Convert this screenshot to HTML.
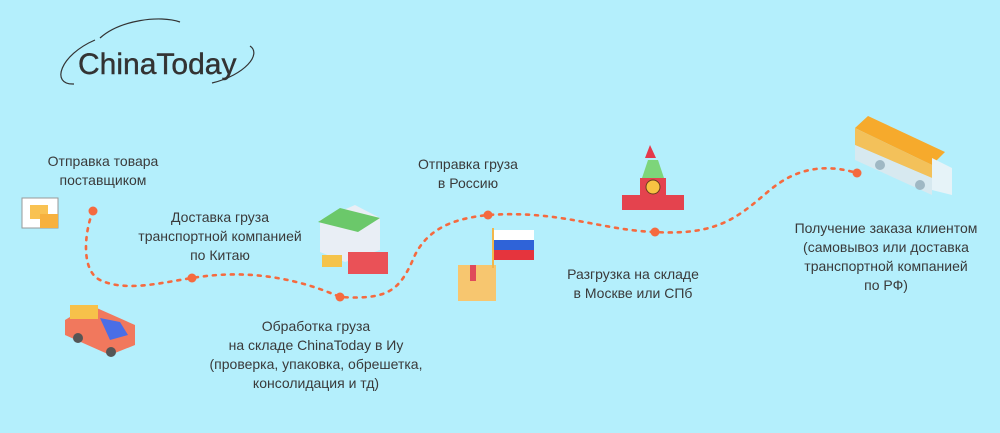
<!DOCTYPE html>
<html><head><meta charset="utf-8"><style>
body{margin:0;width:1000px;height:433px;background:#b4effc;position:relative;overflow:hidden;font-family:"Liberation Sans",sans-serif;color:#3a3a3a}
.t{position:absolute;font-size:14px;line-height:19px;text-align:center;white-space:nowrap;transform:translateX(-50%)}
</style></head><body>
<svg width="1000" height="433" style="position:absolute;left:0;top:0">
<!-- logo -->
<path d="M100,38 C120,20 160,15 180,22" fill="none" stroke="#333" stroke-width="1.2"/>
<path d="M74,84 C50,85 60,55 95,40" fill="none" stroke="#333" stroke-width="1.2"/>
<path d="M250,46 C262,54 245,75 212,83" fill="none" stroke="#333" stroke-width="1.2"/>
<text x="78" y="74" font-family="Liberation Sans, sans-serif" font-size="30" fill="#333" stroke="#333" stroke-width="0.4">ChinaToday</text>
<!-- path -->
<path d="M93,211 C85,230 80,270 100,280 C125,292 160,283 192,278 C240,270 290,275 340,297 C390,300 400,290 415,255 C430,225 460,218 488,215 C560,210 600,230 655,232 C720,236 740,215 770,190 C800,165 830,165 857,173" fill="none" stroke="#f56a3f" stroke-width="2.6" stroke-dasharray="3 6" stroke-linecap="round"/>
<g fill="#f56a3f"><circle cx="93" cy="211" r="4.5"/><circle cx="192" cy="278" r="4.5"/><circle cx="340" cy="297" r="4.5"/><circle cx="488" cy="215" r="4.5"/><circle cx="655" cy="232" r="4.5"/><circle cx="857" cy="173" r="4.5"/></g>
<!-- cart with boxes -->
<rect x="22" y="198" width="36" height="30" fill="#fff" stroke="#999"/>
<rect x="30" y="205" width="18" height="14" fill="#f9c252"/><rect x="40" y="214" width="18" height="14" fill="#f7b13e"/>
<!-- pickup truck -->
<polygon points="65,320 90,305 135,325 135,345 110,355 65,335" fill="#f1785d"/>
<polygon points="100,318 120,322 128,335 110,340" fill="#4a6ee6"/>
<rect x="70" y="305" width="28" height="14" fill="#f7c14a"/>
<circle cx="78" cy="338" r="5" fill="#555"/><circle cx="111" cy="352" r="5" fill="#555"/>
<!-- warehouse -->
<polygon points="320,220 355,205 380,218 380,250 345,262 320,252" fill="#e9eef5"/>
<polygon points="318,222 340,208 380,218 358,232" fill="#6bc86a"/>
<rect x="348" y="252" width="40" height="22" fill="#ea5157"/>
<rect x="322" y="255" width="20" height="12" fill="#f5c34a"/>
<!-- box + flag -->
<rect x="458" y="265" width="38" height="36" fill="#f7c66f"/>
<rect x="470" y="265" width="6" height="16" fill="#e04a5a"/>
<rect x="492" y="228" width="2" height="40" fill="#f2b74c"/>
<rect x="494" y="230" width="40" height="10" fill="#fff"/><rect x="494" y="240" width="40" height="10" fill="#2f63d8"/><rect x="494" y="250" width="40" height="10" fill="#e5343d"/>
<!-- kremlin -->
<polygon points="650,145 656,158 645,158" fill="#e5394b"/>
<polygon points="648,160 658,160 664,178 642,178" fill="#7dd57a"/>
<rect x="640" y="178" width="26" height="32" fill="#e4434e"/>
<circle cx="653" cy="187" r="7" fill="#f8c342" stroke="#6b3d1f"/>
<rect x="622" y="195" width="18" height="15" fill="#e4434e"/><rect x="666" y="195" width="18" height="15" fill="#e4434e"/>
<!-- truck -->
<polygon points="855,128 868,116 945,152 932,165" fill="#f6aa2c"/>
<polygon points="855,128 932,165 932,178 855,145" fill="#f3c15a"/>
<polygon points="855,145 932,178 932,195 855,160" fill="#d7e9f0"/>
<polygon points="932,158 952,168 952,195 932,190" fill="#e6f3f8"/>
<circle cx="880" cy="165" r="5" fill="#9fb8c4"/><circle cx="920" cy="185" r="5" fill="#9fb8c4"/>
</svg>
<div class="t" style="left:103px;top:152px">Отправка товара<br>поставщиком</div>
<div class="t" style="left:220px;top:208px">Доставка груза<br>транспортной компанией<br>по Китаю</div>
<div class="t" style="left:316px;top:317px">Обработка груза<br>на складе ChinaToday в Иу<br>(проверка, упаковка, обрешетка,<br>консолидация и тд)</div>
<div class="t" style="left:468px;top:155px">Отправка груза<br>в Россию</div>
<div class="t" style="left:633px;top:265px">Разгрузка на складе<br>в Москве или СПб</div>
<div class="t" style="left:886px;top:219px">Получение заказа клиентом<br>(самовывоз или доставка<br>транспортной компанией<br>по РФ)</div>
</body></html>
